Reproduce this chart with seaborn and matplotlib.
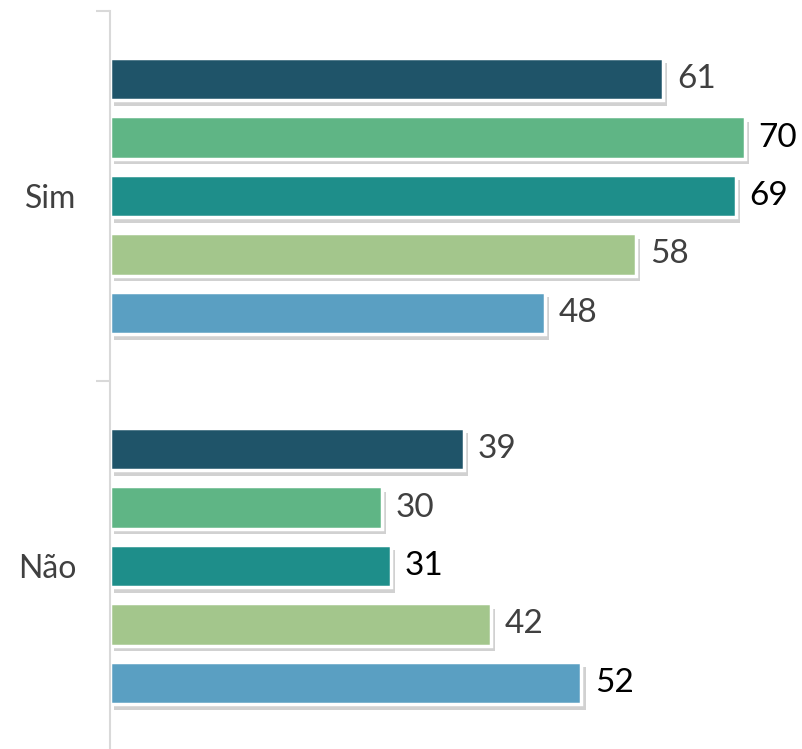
import pandas as pd
import numpy as np
import seaborn as sns
import matplotlib.pyplot as plt
import matplotlib.patheffects as pe

# chart values
categories = ["Sim", "Não"]
series = ["S1", "S2", "S3", "S4", "S5"]
values_sim = [61, 70, 69, 58, 48]
values_nao = [39, 30, 31, 42, 52]
colors = ["#1f5469", "#5fb585", "#1e8e8a", "#a3c68c", "#5a9fc2"]
# label colours per series (sim, nao)
label_colors_sim = ["#404040", "#000000", "#000000", "#404040", "#404040"]
label_colors_nao = ["#404040", "#404040", "#000000", "#404040", "#000000"]

df = pd.DataFrame({
    "categoria": [categories[0]] * 5 + [categories[1]] * 5,
    "serie": series * 2,
    "valor": values_sim + values_nao,
})

sns.set_style("white")
plt.rcParams['font.family'] = ['Lato', 'DejaVu Sans']

fig = plt.figure(figsize=(8.02, 7.49), dpi=100)
ax = fig.add_axes([110 / 802, -2 / 749, 680 / 802, 740 / 749])

sns.barplot(data=df, x="valor", y="categoria", hue="serie", order=categories,
            hue_order=series, palette=colors, saturation=1, orient="h", width=0.79, gap=0.27,
            edgecolor="white", linewidth=2.5, legend=False, ax=ax)

for i, cont in enumerate(ax.containers):
    for bar in cont:
        bar.set_path_effects([pe.SimplePatchShadow(offset=(3, -4), shadow_rgbFace="#999999", alpha=0.45),
                              pe.Normal()])
    labels = ax.bar_label(cont, padding=10, fontsize=24)
    labels[0].set_color(label_colors_sim[i])
    labels[1].set_color(label_colors_nao[i])

ax.set_xlim(0, 75)
ax.set_ylim(1.5, -0.5)
ax.set_xlabel("")
ax.set_ylabel("")
ax.set_xticks([])
for s in ["top", "right", "bottom"]:
    ax.spines[s].set_visible(False)
ax.spines["left"].set_color("#d9d9d9")
ax.spines["left"].set_linewidth(1.5)
ax.set_yticks([-0.5, 0.5], minor=True)
ax.tick_params(axis="y", which="minor", length=10, width=1.5, color="#d9d9d9", left=True)
ax.tick_params(axis="y", which="major", length=0, pad=24, labelsize=23, labelcolor="#404040")

plt.savefig("out.png", dpi=100)
